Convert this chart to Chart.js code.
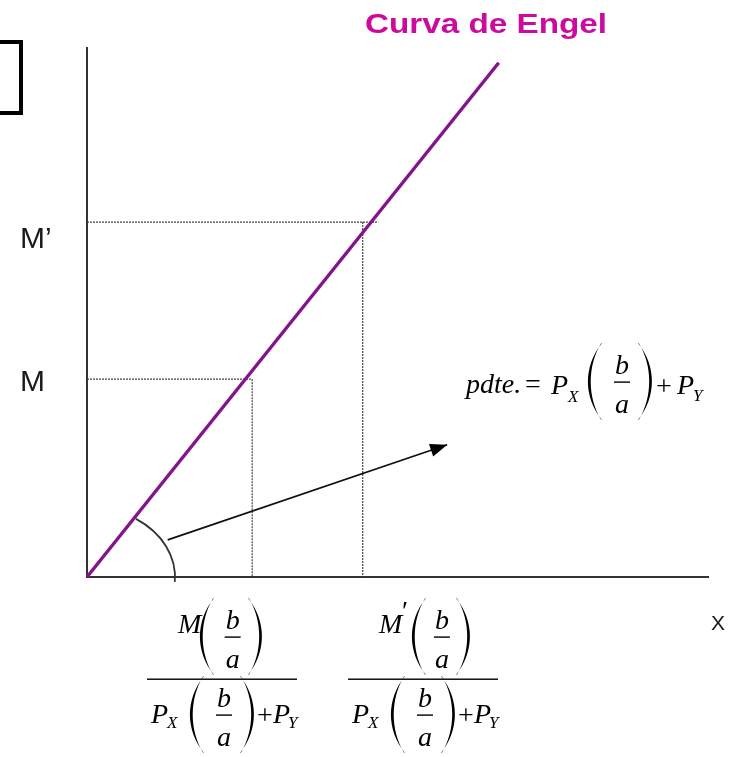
<!DOCTYPE html>
<html>
<head>
<meta charset="utf-8">
<script src="https://cdn.jsdelivr.net/npm/chart.js@4/dist/chart.umd.min.js"></script>
<style>
  html, body { margin: 0; padding: 0; background: #fff; }
  #engel { display: block; }
</style>
</head>
<body>
<canvas id="engel" width="731" height="757"></canvas>
<script>
// Curva de Engel, in axis units (0..10 each way)
const engelX = [0, 6.63];
const engelY = [0, 9.72];
const incomeLevels = [3.74, 6.71];     // M, M'
const incomeLabels = ['M', 'M\u2019'];
const quantityLevels = [2.66, 4.44];   // optimal X at M, M'
const guideEnds = [2.66, 4.69];        // how far each dotted income line runs
const arrowX = [1.30, 5.80];
const arrowY = [0.70, 2.50];

const PURPLE = '#861489';
const MAGENTA = '#cc0a9e';
const INK = '#333';

const guideSets = [];
incomeLevels.forEach((m, i) => {
  guideSets.push({
    data: [{ x: 0, y: m }, { x: guideEnds[i], y: m }],
    borderColor: '#444', borderWidth: 1.2, borderDash: [2, 1],
    pointRadius: 0, showLine: true, order: 3, clip: false,
  });
  guideSets.push({
    data: [{ x: quantityLevels[i], y: m }, { x: quantityLevels[i], y: 0 }],
    borderColor: '#444', borderWidth: 1.2, borderDash: [2, 1],
    pointRadius: 0, showLine: true, order: 3, clip: false,
  });
});

const serif = 'italic 28px "Liberation Serif", "Times New Roman", serif';
const serifUp = '28px "Liberation Serif", "Times New Roman", serif';
const sub = 'italic 17px "Liberation Serif", "Times New Roman", serif';

function txt(ctx, s, x, y, font, color, align) {
  ctx.font = font;
  ctx.fillStyle = color || '#000';
  ctx.textAlign = align || 'left';
  ctx.textBaseline = 'alphabetic';
  ctx.fillText(s, x, y);
}

// tall bracket drawn as a tapered crescent; dir = 1 for "(", -1 for ")"
function paren(ctx, dir, x, top, bottom) {
  const w = 14, t = 3, H = bottom - top;
  const tip = dir > 0 ? x + w : x;            // x of the two ends
  const belly = dir > 0 ? x : x + w;          // x of the outer bulge
  const co = tip + (belly - tip) * 4 / 3;     // outer control x
  const ci = tip + (belly + dir * t - tip) * 4 / 3;
  ctx.save();
  ctx.fillStyle = '#000';
  ctx.beginPath();
  ctx.moveTo(tip, top);
  ctx.bezierCurveTo(co, top + H * 0.3, co, bottom - H * 0.3, tip, bottom);
  ctx.lineTo(tip - dir * 1, bottom - 0.5);
  ctx.bezierCurveTo(ci, bottom - H * 0.3, ci, top + H * 0.3, tip - dir * 1, top + 0.5);
  ctx.closePath();
  ctx.fill();
  ctx.restore();
}

// (b/a) group; x = left of "(", w = gap to ")", barY = fraction bar
function bOverA(ctx, x, barY, w) {
  paren(ctx, 1, x, barY - 39, barY + 38);
  const c = x + w * 0.68;
  txt(ctx, 'b', c, barY - 8, serif, '#000', 'center');
  ctx.fillStyle = '#000';
  ctx.fillRect(c - 8, barY - 0.6, 16, 1.4);
  txt(ctx, 'a', c, barY + 31, serif, '#000', 'center');
  paren(ctx, -1, x + w, barY - 39, barY + 38);
}

function slopeFraction(ctx, x0, primed) {
  // numerator
  txt(ctx, 'M', x0 + 31, 633, serif);
  if (primed) txt(ctx, '\u2032', x0 + 54, 620, serifUp);
  bOverA(ctx, x0 + (primed ? 64 : 53), 637, primed ? 44 : 48);
  // main bar
  ctx.fillStyle = '#000';
  ctx.fillRect(x0, 678.5, 150, 1.4);
  // denominator
  txt(ctx, 'P', x0 + 4, 723, serif);
  txt(ctx, 'X', x0 + 20, 728, sub);
  bOverA(ctx, x0 + 43, 715, 50);
  txt(ctx, '+', x0 + 110, 724, serifUp);
  txt(ctx, 'P', x0 + 126, 723, serif);
  txt(ctx, 'Y', x0 + 141, 728, sub);
}

const sketchPlugin = {
  id: 'sketch',
  afterDatasetsDraw(chart) {
    const { ctx } = chart;
    const xs = chart.scales.x, ys = chart.scales.y;
    const ox = xs.getPixelForValue(0), oy = ys.getPixelForValue(0);
    ctx.save();

    // angle arc at the origin
    ctx.strokeStyle = INK;
    ctx.lineWidth = 1.8;
    ctx.beginPath();
    ctx.ellipse(ox, oy, 88, 70, 0, -0.98, 0.07);
    ctx.stroke();

    // arrow head on the slope arrow
    const x1 = xs.getPixelForValue(arrowX[0]), y1 = ys.getPixelForValue(arrowY[0]);
    const x2 = xs.getPixelForValue(arrowX[1]), y2 = ys.getPixelForValue(arrowY[1]);
    const ang = Math.atan2(y2 - y1, x2 - x1);
    ctx.fillStyle = '#000';
    ctx.beginPath();
    ctx.moveTo(x2, y2);
    ctx.lineTo(x2 - 17 * Math.cos(ang) + 6.5 * Math.sin(ang), y2 - 17 * Math.sin(ang) - 6.5 * Math.cos(ang));
    ctx.lineTo(x2 - 17 * Math.cos(ang) - 6.5 * Math.sin(ang), y2 - 17 * Math.sin(ang) + 6.5 * Math.cos(ang));
    ctx.closePath();
    ctx.fill();

    // title
    ctx.save();
    ctx.font = 'bold 28px "Liberation Sans", Arial, sans-serif';
    const tw = ctx.measureText('Curva de Engel').width;
    ctx.translate(365, 33);
    ctx.scale(242 / tw, 1);
    txt(ctx, 'Curva de Engel', 0, 0, 'bold 28px "Liberation Sans", Arial, sans-serif', MAGENTA);
    ctx.restore();

    // income labels on the y axis
    incomeLabels.forEach((lab, i) => {
      const y = ys.getPixelForValue(incomeLevels[i]);
      txt(ctx, lab, 20, y + (i === 0 ? 12 : 26), '30px "Liberation Sans", Arial, sans-serif', '#1a1a1a');
    });

    // x axis name
    txt(ctx, 'X', 711, 630, '21px "Liberation Sans", Arial, sans-serif', '#1a1a1a');

    // slope formula
    txt(ctx, 'pdte.', 466, 393, serif);
    txt(ctx, '=', 525, 393, serifUp);
    txt(ctx, 'P', 551, 394, serif);
    txt(ctx, 'X', 568, 402, sub);
    bOverA(ctx, 588, 382, 50);
    txt(ctx, '+', 656, 395, serifUp);
    txt(ctx, 'P', 677, 394, serif);
    txt(ctx, 'Y', 693, 401, sub);

    // quantity fractions under the x axis
    slopeFraction(ctx, 147, false);
    slopeFraction(ctx, 348, true);

    // cropped box at the left edge
    ctx.strokeStyle = '#000';
    ctx.lineWidth = 4;
    ctx.strokeRect(-6, 42, 27, 71);

    ctx.restore();
  },
};

new Chart(document.getElementById('engel'), {
  type: 'scatter',
  data: {
    datasets: [
      {
        label: 'Curva de Engel',
        data: engelX.map((x, i) => ({ x, y: engelY[i] })),
        borderColor: PURPLE, borderWidth: 3.4,
        pointRadius: 0, showLine: true, order: 0, clip: false,
      },
      {
        label: 'pendiente',
        data: arrowX.map((x, i) => ({ x, y: arrowY[i] })),
        borderColor: '#111', borderWidth: 1.8,
        pointRadius: 0, showLine: true, order: 1, clip: false,
      },
      ...guideSets,
    ],
  },
  options: {
    responsive: false,
    animation: false,
    devicePixelRatio: 1,
    layout: { padding: { left: 87, right: 23, top: 48, bottom: 180 } },
    plugins: { legend: { display: false }, tooltip: { enabled: false } },
    scales: {
      x: {
        type: 'linear', min: 0, max: 10,
        grid: { display: false, drawTicks: false },
        ticks: { display: false },
        border: { color: INK, width: 2 },
      },
      y: {
        type: 'linear', min: 0, max: 10,
        grid: { display: false, drawTicks: false },
        ticks: { display: false },
        border: { color: INK, width: 2 },
      },
    },
  },
  plugins: [sketchPlugin],
});
</script>
</body>
</html>
